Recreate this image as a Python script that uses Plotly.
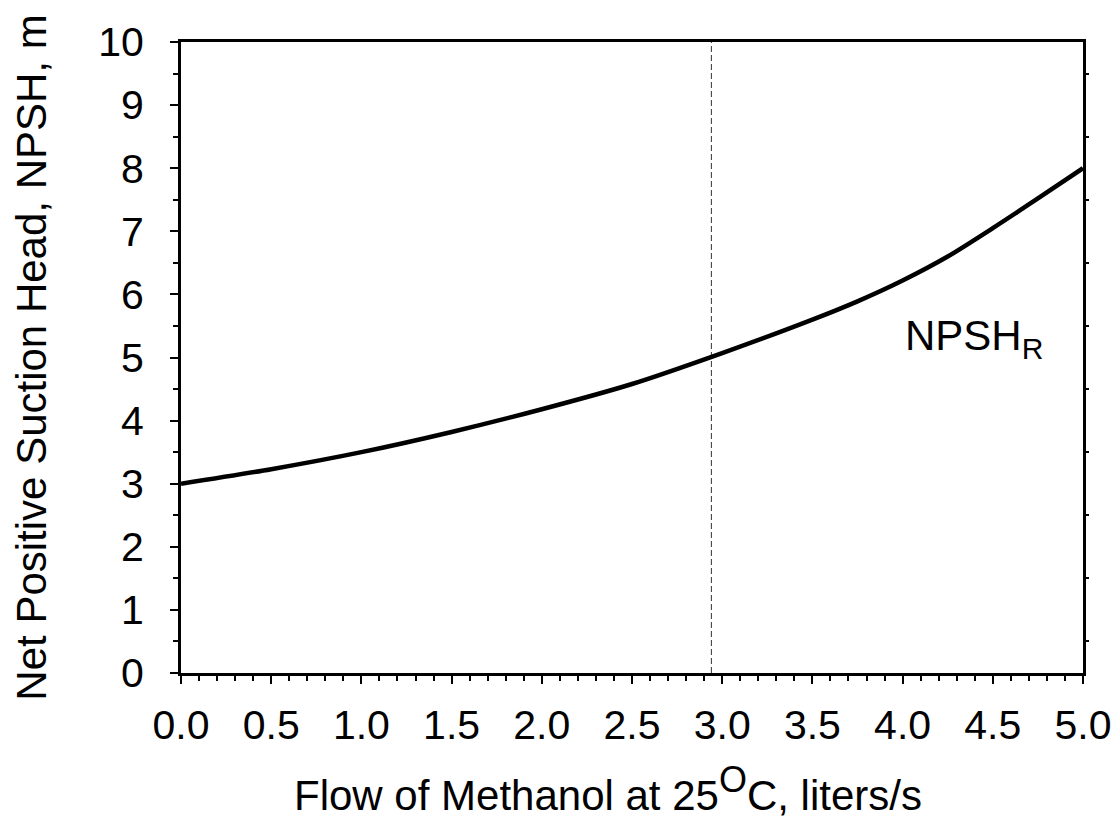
import plotly.graph_objects as go

# Data
flow = [0.0, 0.5, 1.0, 1.5, 2.0, 2.5, 3.0, 3.5, 3.75, 4.0, 4.25, 4.5, 4.75, 5.0]
npsh_r = [3.0, 3.23, 3.5, 3.82, 4.18, 4.58, 5.07, 5.6, 5.89, 6.22, 6.6, 7.05, 7.52, 8.0]
operating_flow = [2.94, 2.94]
operating_y = [0, 10]
x_ticks = [0.0, 0.5, 1.0, 1.5, 2.0, 2.5, 3.0, 3.5, 4.0, 4.5, 5.0]
x_tick_labels = ["0.0", "0.5", "1.0", "1.5", "2.0", "2.5", "3.0", "3.5", "4.0", "4.5", "5.0"]
y_ticks = list(range(0, 11))
right_ticks = [0.5, 1.5, 2.5, 3.5, 4.5, 5.5, 6.5, 7.5, 8.5, 9.5]
x_title = "Flow of Methanol at 25<sup><span style='font-size:36px'>O</span></sup>C, liters/s"
y_title = "Net Positive Suction Head, NPSH, m"
curve_label = "NPSH<sub><span style='font-size:30px'>R</span></sub>"

FONT = "Liberation Sans, Arial, sans-serif"
FS = 41

fig = go.Figure()
fig.add_trace(go.Scatter(x=operating_flow, y=operating_y, mode="lines",
                         line=dict(color="#333333", width=1, dash="6px,3px"),
                         showlegend=False, hoverinfo="skip"))
fig.add_trace(go.Scatter(x=flow, y=npsh_r, mode="lines",
                         line=dict(color="black", width=4.5, shape="spline", smoothing=0.8),
                         showlegend=False))
# invisible trace to activate right axis
fig.add_trace(go.Scatter(x=[0], y=[0], yaxis="y2", mode="markers",
                         marker=dict(opacity=0), showlegend=False, hoverinfo="skip"))

fig.add_annotation(x=4.0, y=5.3, xref="x", yref="y", text=curve_label,
                   showarrow=False, xanchor="left", yanchor="middle",
                   font=dict(family=FONT, size=42, color="black"))

# x-axis title as a paper annotation for exact placement
fig.add_annotation(x=0.473, y=0, xref="paper", yref="paper", text=x_title,
                   showarrow=False, xanchor="center", yanchor="middle", yshift=-116,
                   font=dict(family=FONT, size=42, color="black"))

fig.update_layout(
    width=1111, height=815,
    margin=dict(l=173, r=36, t=34, b=150),
    plot_bgcolor="white", paper_bgcolor="white",
    font=dict(family=FONT, size=FS, color="black"),
    xaxis=dict(range=[0, 5], tickvals=x_ticks, ticktext=x_tick_labels,
               ticks="outside", ticklen=8, tickwidth=1.5, tickcolor="black",
               minor=dict(dtick=0.1, ticks="outside", ticklen=5, tickwidth=1.5, tickcolor="black"),
               showline=True, linewidth=3, linecolor="black", mirror=True,
               showgrid=False, zeroline=False, automargin=False,
               tickfont=dict(size=FS), ticklabelstandoff=6),
    yaxis=dict(range=[0, 10], tickvals=y_ticks,
               ticks="outside", ticklen=8, tickwidth=1.5, tickcolor="black",
               minor=dict(dtick=0.5, ticks="outside", ticklen=5, tickwidth=1.5, tickcolor="black"),
               showline=True, linewidth=3, linecolor="black", mirror=True,
               showgrid=False, zeroline=False,
               tickfont=dict(size=FS), ticklabelstandoff=18,
               title=dict(text=y_title, font=dict(size=42), standoff=43)),
    yaxis2=dict(range=[0, 10], overlaying="y", side="right", tickvals=right_ticks,
                ticks="outside", ticklen=5, tickwidth=1.5, tickcolor="black",
                showticklabels=False, showgrid=False, zeroline=False, showline=False),
)

fig.write_html("out.html")
